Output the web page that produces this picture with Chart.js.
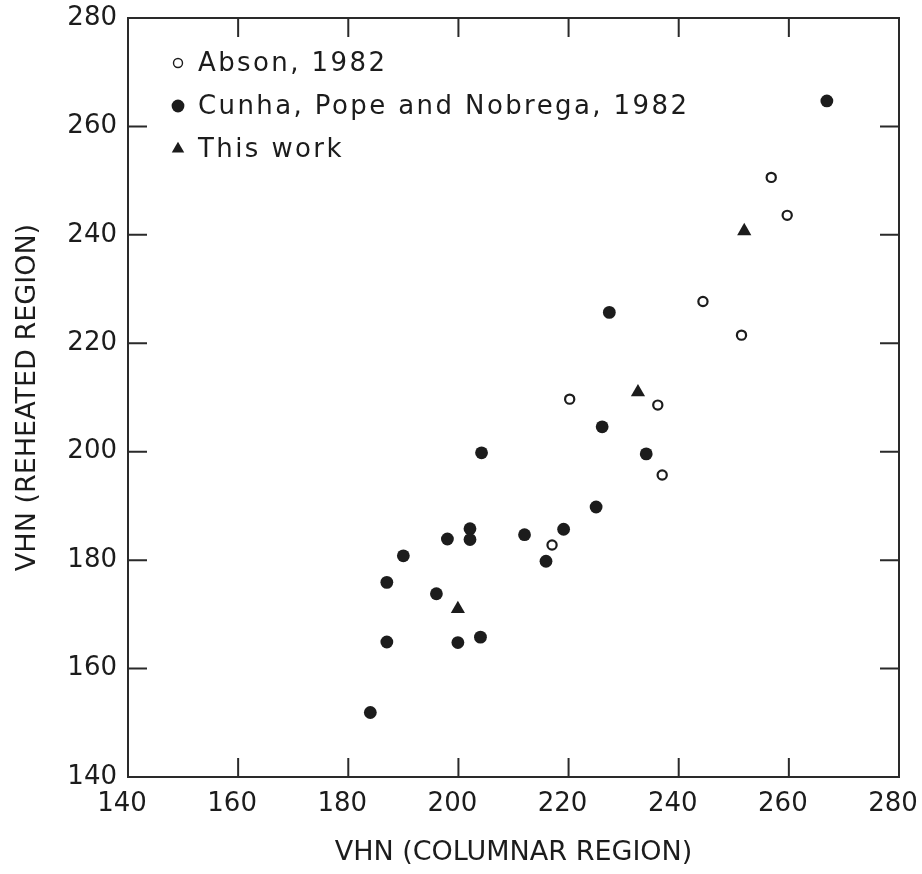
<!DOCTYPE html>
<html>
<head>
<meta charset="utf-8">
<script src="https://cdn.jsdelivr.net/npm/chart.js@4.4.1/dist/chart.umd.min.js"></script>
<style>
  html, body { margin: 0; padding: 0; background: #fff; }
  #wrap { position: relative; width: 922px; height: 874px; }
</style>
</head>
<body>
<div id="wrap"><canvas id="vhnChart"></canvas></div>
<script>
const seriesNames = ['Abson, 1982', 'Cunha, Pope and Nobrega, 1982', 'This work'];

// Abson, 1982 (open circles)
const absonX = [256.8, 259.7, 244.4, 251.4, 220.2, 236.2, 237.0, 217.0];
const absonY = [250.6, 243.6, 227.7, 221.5, 209.7, 208.6, 195.7, 182.8];

// Cunha, Pope and Nobrega, 1982 (filled circles)
const cunhaX = [266.9, 227.4, 226.1, 204.2, 234.1, 225.0, 219.1, 202.1, 202.1, 198.0, 212.0, 215.9, 190.0, 187.0, 196.0, 187.0, 199.9, 204.0, 184.0];
const cunhaY = [264.7, 225.7, 204.6, 199.8, 199.6, 189.8, 185.7, 185.8, 183.8, 183.9, 184.7, 179.8, 180.8, 175.9, 173.8, 164.9, 164.8, 165.8, 151.9];

// This work (filled triangles)
const thisWorkX = [251.9, 232.6, 199.9];
const thisWorkY = [240.7, 211.0, 171.0];

const xTickValues = [140, 160, 180, 200, 220, 240, 260, 280];
const yTickValues = [140, 160, 180, 200, 220, 240, 260, 280];

const INK = '#1c1c1c';
const zip = (xs, ys) => xs.map((x, i) => ({ x: x, y: ys[i] }));

const datasets = [
  {
    label: seriesNames[0],
    data: zip(absonX, absonY),
    pointStyle: 'circle',
    pointRadius: 4.6,
    pointBorderWidth: 2.2,
    pointBackgroundColor: '#fff',
    pointBorderColor: INK,
  },
  {
    label: seriesNames[1],
    data: zip(cunhaX, cunhaY),
    pointStyle: 'circle',
    pointRadius: 6.4,
    pointBorderWidth: 0,
    pointBackgroundColor: INK,
    pointBorderColor: INK,
  },
  {
    label: seriesNames[2],
    data: zip(thisWorkX, thisWorkY),
    pointStyle: 'triangle',
    pointRadius: 8.2,
    pointBorderWidth: 0,
    pointBackgroundColor: INK,
    pointBorderColor: INK,
  },
];

// box frame with inward ticks on all four sides
const framePlugin = {
  id: 'frame',
  afterDraw(chart) {
    const { ctx, chartArea: a, scales } = chart;
    const TICK = 19;
    ctx.save();
    ctx.strokeStyle = '#2a2a2a';
    ctx.lineWidth = 2;
    ctx.strokeRect(a.left, a.top, a.right - a.left, a.bottom - a.top);
    ctx.beginPath();
    xTickValues.forEach((v) => {
      const px = scales.x.getPixelForValue(v);
      ctx.moveTo(px, a.bottom); ctx.lineTo(px, a.bottom - TICK);
      ctx.moveTo(px, a.top); ctx.lineTo(px, a.top + TICK);
    });
    yTickValues.forEach((v) => {
      const py = scales.y.getPixelForValue(v);
      ctx.moveTo(a.left, py); ctx.lineTo(a.left + TICK, py);
      ctx.moveTo(a.right, py); ctx.lineTo(a.right - TICK, py);
    });
    ctx.stroke();
    ctx.restore();
  },
};

// legend drawn inside the plot, top-left
const legendRadius = [4.5, 6.4, 7.2];
const insideLegend = {
  id: 'insideLegend',
  afterDraw(chart) {
    const { ctx, chartArea: a } = chart;
    ctx.save();
    ctx.font = '26px "DejaVu Sans", sans-serif';
    ctx.letterSpacing = '2.4px';
    ctx.textBaseline = 'middle';
    ctx.textAlign = 'left';
    chart.data.datasets.forEach((ds, i) => {
      const y = a.top + 45 + i * 43;
      const x = a.left + 50;
      ctx.fillStyle = ds.pointBackgroundColor;
      ctx.strokeStyle = ds.pointBorderColor;
      ctx.lineWidth = i === 0 ? 1.4 : 0;
      Chart.helpers.drawPoint(ctx, {
        pointStyle: ds.pointStyle,
        radius: legendRadius[i],
        borderWidth: i === 0 ? 1.4 : 0,
        rotation: 0,
      }, x, y);
      ctx.fillStyle = INK;
      ctx.fillText(ds.label, x + 20, y + 1);
    });
    ctx.restore();
  },
};

new Chart(document.getElementById('vhnChart'), {
  type: 'scatter',
  data: { datasets: datasets },
  plugins: [framePlugin, insideLegend],
  options: {
    responsive: true,
    maintainAspectRatio: false,
    animation: false,
    layout: { padding: { top: 18, right: 23, bottom: 0, left: 0 } },
    plugins: { legend: { display: false }, tooltip: { enabled: false } },
    scales: {
      x: {
        type: 'linear',
        min: 140,
        max: 280,
        afterBuildTicks: (s) => { s.ticks = xTickValues.map((v) => ({ value: v })); },
        afterFit: (s) => { s.height = 97; s.paddingLeft = 0; s.paddingRight = 0; },
        grid: { display: false, drawTicks: false },
        border: { display: false },
        ticks: {
          color: INK,
          padding: 12,
          labelOffset: -6,
          maxRotation: 0,
          font: { family: '"DejaVu Sans", sans-serif', size: 26 },
        },
        title: {
          display: true,
          text: 'VHN (COLUMNAR REGION)',
          color: INK,
          padding: { top: 0, bottom: 5 },
          font: { family: '"DejaVu Sans", sans-serif', size: 27 },
        },
      },
      y: {
        type: 'linear',
        min: 140,
        max: 280,
        afterBuildTicks: (s) => { s.ticks = yTickValues.map((v) => ({ value: v })); },
        afterFit: (s) => { s.width = 128; s.paddingTop = 0; s.paddingBottom = 0; },
        grid: { display: false, drawTicks: false },
        border: { display: false },
        ticks: {
          color: INK,
          padding: 11,
          font: { family: '"DejaVu Sans", sans-serif', size: 26 },
        },
        title: {
          display: true,
          text: 'VHN (REHEATED REGION)',
          color: INK,
          padding: { top: 12, bottom: 0 },
          font: { family: '"DejaVu Sans", sans-serif', size: 27 },
        },
      },
    },
  },
});
</script>
</body>
</html>
